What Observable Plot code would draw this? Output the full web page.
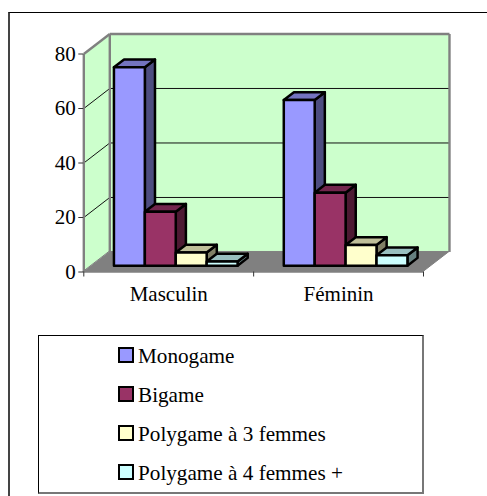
<!DOCTYPE html>
<html><head><meta charset="utf-8">
<script src="https://cdn.jsdelivr.net/npm/d3@7"></script>
<script src="https://cdn.jsdelivr.net/npm/@observablehq/plot@0.6"></script>
<style>
html,body{margin:0;padding:0;background:#fff;overflow:hidden}
#page{position:relative;width:487px;height:496px;overflow:hidden}
#frame{position:absolute;left:8px;top:12px;width:520px;height:520px;border-top:1.5px solid #000;border-left:2px solid #444;box-sizing:border-box}
#chart{position:absolute;left:0;top:0}
#legend{position:absolute;left:38px;top:335px;width:386px;height:159px;box-sizing:border-box;border:1px solid #000;border-right:2px solid #777;border-bottom:2px solid #777;font:21.2px "Liberation Serif",serif;color:#000}
.row{position:absolute;left:79px;height:24px;line-height:24px;white-space:nowrap}
.sw{position:absolute;left:0;top:3px;width:16px;height:16px;box-sizing:border-box;border:2.5px solid #000}
.row span.t{margin-left:20px}
</style></head><body>
<div id="page"><div id="frame"></div><div id="chart"></div><div id="legend"></div></div>
<script>
const categories = ["Masculin", "Féminin"];
const seriesNames = ["Monogame", "Bigame", "Polygame à 3 femmes", "Polygame à 4 femmes +"];
const masculin = [72.8, 19.8, 4.8, 1.5];
const feminin = [60.8, 26.8, 7.6, 3.8];
const colors = ["#9999ff", "#993366", "#ffffcc", "#ccffff"];
const topColors = ["#7373bf", "#73264d", "#bfbf99", "#99bfbf"];
const sideColors = ["#4d4d80", "#4d1a33", "#808066", "#668080"];
const ticksY = [0, 20, 40, 60, 80];

// oblique projection, in data units
const depthX = 0.153, depthY = 7.35;
const px = (x, d) => x + d * depthX;
const py = (v, d) => v + d * depthY;
const barStart = 0.136, barWidth = 0.182, d0 = 0.29, d1 = 0.68;
const xMax = categories.length;

function quad(id, a, b, c, e, fill) {
  return [
    {id, x1: a[0], y1: a[1], x2: e[0], y2: e[1], fill},
    {id, x1: b[0], y1: b[1], x2: c[0], y2: c[1], fill}
  ];
}
const sides = [], tops = [], fronts = [];
[masculin, feminin].forEach((vals, g) => {
  vals.forEach((v, s) => {
    const x0 = g + barStart + s * barWidth, x1 = x0 + barWidth;
    const k = g + "-" + s;
    fronts.push(...quad(k, [px(x0,d0),py(0,d0)], [px(x1,d0),py(0,d0)], [px(x1,d0),py(v,d0)], [px(x0,d0),py(v,d0)], colors[s]));
    tops.push(...quad(k, [px(x0,d0),py(v,d0)], [px(x1,d0),py(v,d0)], [px(x1,d1),py(v,d1)], [px(x0,d1),py(v,d1)], topColors[s]));
    sides.push(...quad(k, [px(x1,d0),py(0,d0)], [px(x1,d1),py(0,d1)], [px(x1,d1),py(v,d1)], [px(x1,d0),py(v,d0)], sideColors[s]));
  });
});
const wallBack = quad("b", [px(0,1),py(0,1)], [px(xMax,1),py(0,1)], [px(xMax,1),py(80,1)], [px(0,1),py(80,1)], "#ccffcc");
const wallSide = quad("s", [0,0], [px(0,1),py(0,1)], [px(0,1),py(80,1)], [0,80], "#ccffcc");
const floor = quad("f", [0,0], [xMax,0], [px(xMax,1),py(0,1)], [px(0,1),py(0,1)], "#808080");
const gridV = ticksY.slice(1, -1);
const gridBack = gridV.map(v => ({x1: px(0,1), x2: px(xMax,1), y1: py(v,1), y2: py(v,1)}));
const gridSide = gridV.map(v => ({x1: 0, x2: px(0,1), y1: v, y2: py(v,1)}));
const wallEdges = [
  {x1: 0, y1: 80, x2: px(0,1), y2: py(80,1)},
  {x1: px(0,1), y1: py(80,1), x2: px(xMax,1), y2: py(80,1)},
  {x1: px(0,1), y1: py(80,1), x2: px(0,1), y2: py(0,1)},
  {x1: px(xMax,1), y1: py(80,1), x2: px(xMax,1), y2: py(0,1)},
  {x1: 0, y1: 0, x2: 0, y2: 80}
];
const faceOpts = {x1: "x1", y1: "y1", x2: "x2", y2: "y2", z: "id", fill: "fill"};
const seg = {x1: "x1", y1: "y1", x2: "x2", y2: "y2"};

const plot = Plot.plot({
  width: 487, height: 330,
  marginLeft: 83.3, marginRight: 64, marginTop: 53.5, marginBottom: 58.5,
  style: {background: "transparent", fontFamily: "'Liberation Serif', serif", fontSize: "21px", color: "#000", overflow: "visible"},
  x: {domain: [0, xMax], axis: null},
  y: {domain: [0, 80], axis: null},
  marks: [
    Plot.area(wallSide, faceOpts),
    Plot.area(wallBack, faceOpts),
    Plot.area(floor, {...faceOpts, stroke: "#808080", strokeWidth: 1}),
    Plot.link(gridBack, {...seg, stroke: "#111", strokeWidth: 1, curve: "linear"}),
    Plot.link(gridSide, {...seg, stroke: "#111", strokeWidth: 1, curve: "linear"}),
    Plot.link(wallEdges, {...seg, stroke: "#808080", strokeWidth: 2.4, curve: "linear"}),
    Plot.ruleY([0], {x1: 0, x2: xMax, stroke: "#808080", strokeWidth: 1.5}),
    Plot.area(sides, {...faceOpts, stroke: "#000", strokeWidth: 2.5}),
    Plot.area(tops, {...faceOpts, stroke: "#000", strokeWidth: 2.5}),
    Plot.area(fronts, {...faceOpts, stroke: "#000", strokeWidth: 2.5}),
    Plot.axisY({ticks: ticksY, tickSize: 5, tickPadding: 3, label: null, stroke: "#333", fontSize: 21}),
    Plot.axisX({ticks: d3.range(xMax + 1), tickSize: 5, tickFormat: () => "", label: null, stroke: "#333"}),
    Plot.axisX({ticks: categories.map((c, i) => i + 0.5), tickSize: 0, tickPadding: 14, tickFormat: d => categories[d - 0.5], label: null, fontSize: 21})
  ]
});
document.getElementById("chart").appendChild(plot);

const legend = document.getElementById("legend");
seriesNames.forEach((name, i) => {
  const row = document.createElement("div");
  row.className = "row";
  row.style.top = (8 + i * 39) + "px";
  const sw = document.createElement("div");
  sw.className = "sw";
  sw.style.background = colors[i];
  const t = document.createElement("span");
  t.className = "t";
  t.textContent = name;
  row.append(sw, t);
  legend.appendChild(row);
});
</script></body></html>
